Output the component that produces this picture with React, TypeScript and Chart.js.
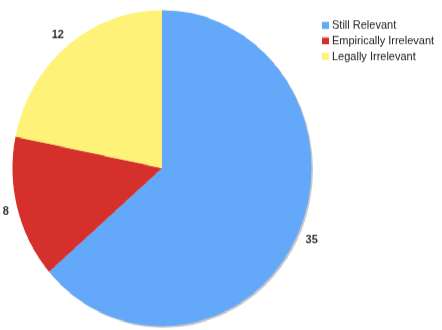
import React, { useEffect, useRef } from "react";
import { Chart, registerables } from "chart.js";

Chart.register(...registerables);

const categories = ["Still Relevant", "Empirically Irrelevant", "Legally Irrelevant"];
const values = [35, 8, 12];
const colors = ["#64a8fa", "#d6302c", "#fff278"];

const W = 442;
const H = 312;

const shadowPlugin = {
  id: "pieShadow",
  beforeDatasetsDraw(chart: any) {
    const arc = chart.getDatasetMeta(0).data[0];
    if (!arc) return;
    const ctx = chart.ctx;
    ctx.save();
    ctx.fillStyle = "rgba(0,0,0,0.22)";
    ctx.beginPath();
    ctx.arc(arc.x + 1.5, arc.y + 1.5, arc.outerRadius, 0, Math.PI * 2);
    ctx.fill();
    ctx.restore();
  },
};

const labelPlugin = {
  id: "outerLabels",
  afterDatasetsDraw(chart: any) {
    const ctx = chart.ctx;
    const meta = chart.getDatasetMeta(0);
    const data = chart.data.datasets[0].data as number[];
    ctx.save();
    ctx.font = "bold 11px 'Liberation Sans', Arial, sans-serif";
    ctx.fillStyle = "#333";
    ctx.textAlign = "center";
    ctx.textBaseline = "middle";
    meta.data.forEach((arc: any, i: number) => {
      const mid = (arc.startAngle + arc.endAngle) / 2;
      const dx = Math.cos(mid);
      const dy = Math.sin(mid);
      const text = String(data[i]);
      const w = ctx.measureText(text).width;
      const h = 8.5;
      const r = arc.outerRadius + 9;
      const px = arc.x + dx * r + dx * w / 2;
      const py = arc.y + dy * r + dy * h / 2;
      ctx.fillText(text, px, py);
    });
    ctx.restore();

    // legend
    ctx.save();
    ctx.font = "11px 'Liberation Sans', Arial, sans-serif";
    ctx.textAlign = "left";
    ctx.textBaseline = "middle";
    const labels = chart.data.labels as string[];
    const bg = chart.data.datasets[0].backgroundColor as string[];
    labels.forEach((lab, i) => {
      const cy = 23.9 + i * 14.8;
      ctx.fillStyle = bg[i];
      ctx.fillRect(322, cy - 3.3, 7, 6.6);
      ctx.fillStyle = "#222";
      ctx.fillText(lab, 332, cy + 0.5);
    });
    ctx.restore();
  },
};

export default function App() {
  const ref = useRef<HTMLCanvasElement | null>(null);
  useEffect(() => {
    if (!ref.current) return;
    const chart = new Chart(ref.current, {
      type: "pie",
      data: {
        labels: categories,
        datasets: [
          {
            data: values,
            backgroundColor: colors,
            borderWidth: 0,
          },
        ],
      },
      options: {
        responsive: false,
        animation: false,
        layout: { padding: { left: 12.5, right: 130.5, top: 9.5, bottom: 3.5 } },
        plugins: {
          legend: { display: false },
          tooltip: { enabled: false },
        },
      },
      plugins: [shadowPlugin, labelPlugin],
    });
    return () => chart.destroy();
  }, []);
  return (
    <div
      style={{
        position: "absolute",
        left: 0,
        top: 0,
        width: W,
        height: H,
        background: "#fff",
        transform: `scaleY(${330 / H})`,
        transformOrigin: "0 0",
      }}
    >
      <canvas ref={ref} width={W} height={H} style={{ width: W, height: H, display: "block" }} />
    </div>
  );
}
